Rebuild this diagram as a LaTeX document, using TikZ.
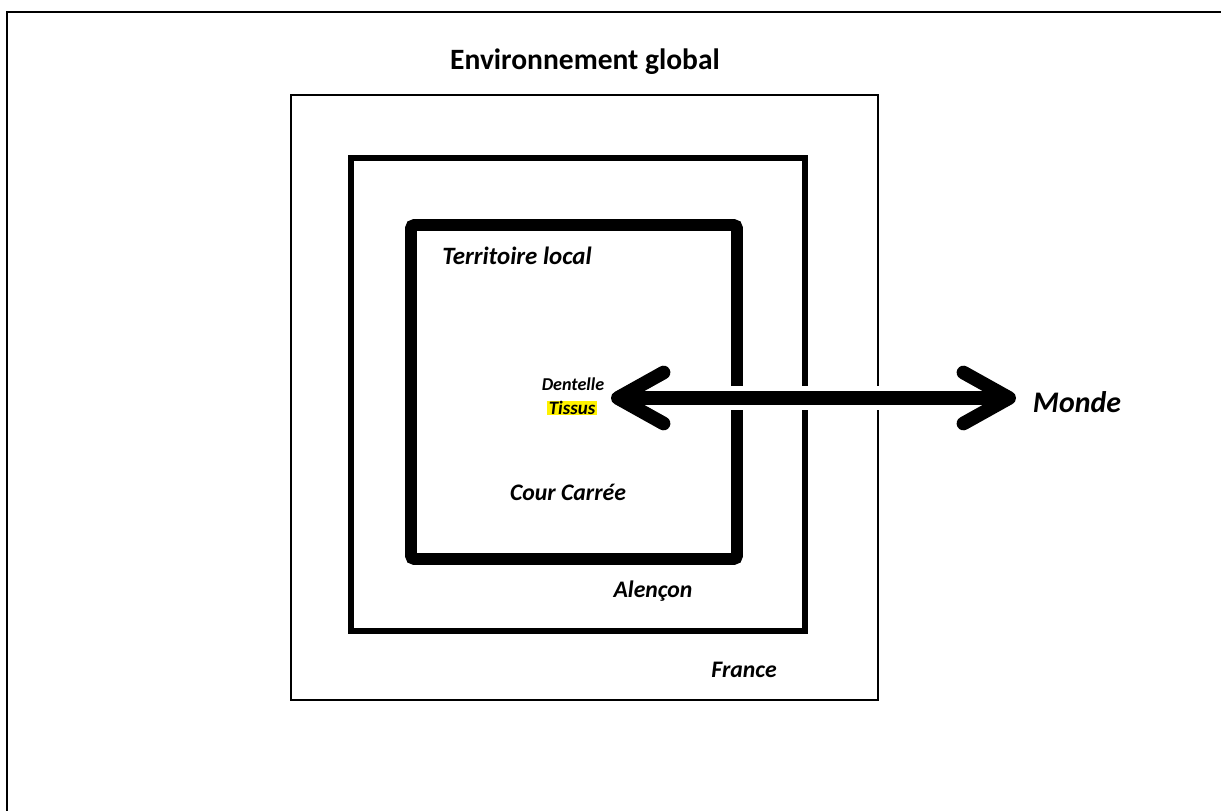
\documentclass[tikz,border=0pt]{standalone}
\usepackage{fontspec}
\setmainfont{Carlito}[BoldItalicFont={Carlito Bold Italic}]
\usetikzlibrary{arrows.meta}

\tikzset{
  lbl/.style={inner sep=0pt, font=\bfseries\itshape\fontsize{13.5}{15}\selectfont},
  bigarrow/.style={line width=7.8pt, {Straight Barb[length=26pt,width=29pt,round]}-{Straight Barb[length=26pt,width=29pt,round]}},
}

\begin{document}
\begin{tikzpicture}[x=0.02cm,y=-0.02cm]
			\useasboundingbox (0,0) rectangle (1221,811);
			%%%%% FRAME
			\draw[line width=1.4pt] (7,811) -- (7,12) -- (1221,12);
			
			%%%%% BOXES
			\draw[line width=1.4pt] (291,95) rectangle (878,700);
			\draw[line width=3pt] (351,158) rectangle (805,631);
			\draw[line width=6.8pt, rounded corners=2pt] (411,225) rectangle (737,559);
			
			%%%%% LABELS
			\node[inner sep=0pt, font=\bfseries\fontsize{16.8}{19}\selectfont] (envglob) at (585,62) {Environnement global};
			\node[lbl, font=\bfseries\itshape\fontsize{14.2}{16}\selectfont] (terloc) at (517,256) {Territoire local};
			\node[lbl, font=\bfseries\itshape\fontsize{10.3}{12}\selectfont] (dentelle) at (573,384) {Dentelle};
			\node[lbl, font=\bfseries\itshape\fontsize{10.8}{12}\selectfont, fill=yellow, inner xsep=1pt] (tissus) at (572,408) {Tissus};
			\node[lbl] (cour) at (568,492) {Cour Carrée};
			\node[lbl] (alencon) at (653,591) {Alençon};
			\node[lbl] (france) at (744,670) {France};
			\node[lbl, font=\bfseries\itshape\fontsize{17}{19}\selectfont] (monde) at (1077,402) {Monde};
			
			%%%%% ARROW
			\coordinate (tipl) at (611,398);
			\coordinate (tipr) at (1016,398);
			\draw[white, line width=14pt] ([xshift=40]tipl) -- ([xshift=-40]tipr);
			\draw[bigarrow] (tipl) -- (tipr);
		\end{tikzpicture}
\end{document}
